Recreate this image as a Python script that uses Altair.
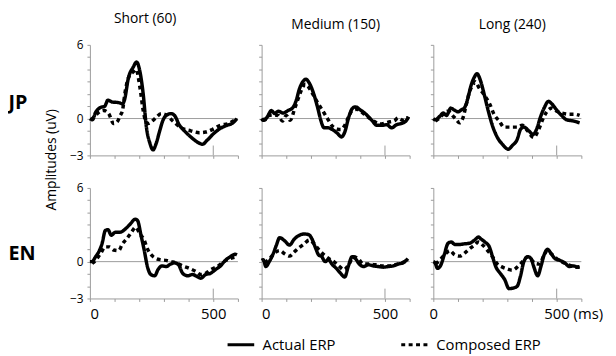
import altair as alt
import pandas as pd

FONT = "Open Sans"
AXIS_GRAY = "#9b9b9b"

row_names = ["JP", "EN"]
col_names = ["Short (60)", "Medium (150)", "Long (240)"]
col_title_dx = [-19, 0, 5]
series_names = ["Actual ERP", "Composed ERP"]
x_tick_values = [0, 100, 200, 300, 400, 500, 600]
y_tick_values = [-3, -2, -1, 0, 1, 2, 3, 4, 5, 6]

# ---- JP ----
jp_short_actual_t = [0, 10, 23, 43, 60, 73, 89, 116, 133, 140, 156, 176, 189, 203, 216, 229, 243, 256, 269, 283, 296, 309, 329, 343, 363, 383, 409, 443, 456, 476, 503, 529, 556, 576, 596]
jp_short_actual_v = [0, -0.1, 0.5, 0.9, 1.0, 1.5, 1.35, 1.3, 1.2, 1.5, 3.3, 4.2, 4.6, 3.8, 2.0, -0.7, -2.0, -2.55, -2.0, -1.0, -0.15, 0.25, 0.4, 0.25, -0.55, -1.0, -1.5, -2.0, -2.1, -1.75, -1.2, -0.8, -0.55, -0.4, 0.0]
jp_short_composed_t = [5, 20, 36, 56, 76, 96, 109, 123, 132, 143, 156, 176, 187, 203, 216, 225, 236, 256, 269, 289, 309, 336, 369, 409, 443, 469, 496, 529, 563, 596]
jp_short_composed_v = [-0.1, 0.2, 0.5, 0.65, 0.4, -0.4, -0.3, 0.25, 0.65, 2.2, 3.3, 3.8, 4.0, 2.5, 0.65, -0.15, -0.4, -0.15, 0.1, 0.4, 0.3, -0.2, -0.75, -1.0, -1.15, -1.1, -0.9, -0.55, -0.4, 0.0]

jp_medium_actual_t = [0, 7, 20, 40, 53, 67, 87, 107, 127, 140, 153, 167, 180, 193, 207, 227, 240, 253, 267, 287, 307, 324, 337, 353, 367, 380, 400, 420, 447, 467, 487, 507, 527, 547, 567, 587, 596]
jp_medium_actual_v = [0, -0.15, 0.05, 0.65, 0.4, 0.6, 0.45, 0.65, 0.9, 1.45, 2.4, 3.0, 3.2, 2.9, 2.25, 0.9, -0.15, -0.75, -0.75, -0.9, -1.2, -1.5, -1.1, 0.1, 0.8, 0.95, 0.7, 0.4, -0.15, -0.55, -0.55, -0.5, -0.75, -0.5, -0.4, -0.15, 0.15]
jp_medium_composed_t = [5, 13, 27, 47, 67, 84, 100, 116, 133, 147, 160, 177, 187, 207, 227, 247, 267, 284, 300, 320, 337, 353, 367, 387, 413, 447, 480, 513, 540, 553, 573, 593]
jp_medium_composed_v = [0, -0.1, 0.25, 0.3, 0.25, -0.2, 0.25, -0.15, 0.75, 1.55, 2.25, 2.8, 2.65, 2.0, 1.3, 0.65, 0.0, -0.55, -0.8, -0.9, -0.55, 0.15, 0.65, 0.75, 0.4, -0.1, -0.45, -0.3, -0.15, 0.05, -0.15, 0.1]

jp_long_actual_t = [0, 7, 27, 40, 53, 71, 84, 100, 113, 127, 140, 153, 167, 177, 191, 207, 223, 240, 260, 280, 304, 320, 340, 353, 367, 387, 404, 420, 433, 449, 467, 480, 500, 520, 540, 567, 593]
jp_long_actual_v = [0, -0.1, 0.2, 0.45, 0.25, 0.85, 0.7, 0.55, 0.7, 0.9, 1.65, 2.7, 3.4, 3.65, 3.1, 1.9, 0.6, -0.6, -1.55, -2.1, -2.5, -2.2, -1.7, -0.9, -0.7, -1.0, -1.3, -0.8, 0.05, 0.85, 1.4, 1.2, 0.7, 0.25, -0.1, -0.2, -0.35]
jp_long_composed_t = [9, 23, 40, 60, 80, 89, 107, 120, 133, 147, 160, 169, 187, 207, 227, 247, 267, 287, 313, 340, 360, 380, 407, 427, 447, 460, 480, 500, 520, 547, 573, 593]
jp_long_composed_v = [-0.2, 0.0, 0.35, 0.6, 0.2, 0.0, -0.35, 0.05, 1.1, 2.2, 2.7, 3.0, 2.45, 1.9, 1.25, 0.3, -0.2, -0.7, -0.7, -0.7, -0.55, -0.95, -1.55, -0.9, 0.1, 0.55, 0.85, 0.6, 0.45, 0.35, 0.35, 0.25]

# ---- EN ----
en_short_actual_t = [0, 9, 23, 36, 49, 63, 73, 87, 103, 123, 143, 163, 183, 193, 207, 220, 233, 247, 263, 276, 292, 309, 327, 343, 359, 376, 396, 416, 433, 449, 469, 489, 509, 529, 549, 569, 589, 596]
en_short_actual_v = [0, 0.0, 0.4, 0.8, 1.45, 2.55, 2.6, 2.15, 2.4, 2.4, 2.65, 3.05, 3.45, 3.35, 2.15, 0.95, -0.4, -1.05, -1.15, -0.65, -0.35, -0.4, -0.2, -0.1, -0.25, -0.95, -1.15, -1.05, -1.2, -1.35, -1.05, -0.95, -0.65, -0.35, 0.1, 0.4, 0.6, 0.55]
en_short_composed_t = [9, 25, 43, 63, 79, 96, 116, 132, 149, 169, 185, 203, 220, 233, 249, 269, 289, 309, 329, 349, 376, 403, 429, 449, 469, 489, 516, 543, 569, 596]
en_short_composed_v = [-0.15, 0.15, 0.65, 1.2, 1.2, 0.95, 0.9, 1.45, 1.85, 2.4, 2.8, 2.25, 1.75, 1.05, 0.55, 0.25, 0.15, 0.1, 0.0, -0.1, -0.35, -0.55, -0.8, -1.05, -0.95, -0.65, -0.4, 0.0, 0.25, 0.4]

en_medium_actual_t = [0, 7, 17, 31, 47, 60, 73, 93, 113, 133, 153, 173, 191, 204, 217, 231, 244, 257, 271, 287, 303, 320, 337, 351, 367, 380, 396, 413, 433, 453, 473, 493, 513, 533, 553, 573, 593]
en_medium_actual_v = [0.1, 0.15, -0.4, 0.0, 0.65, 1.35, 1.95, 1.7, 1.35, 1.85, 2.15, 2.25, 2.2, 1.85, 1.2, 0.55, 0.4, 0.0, 0.15, -0.25, -0.55, -0.95, -1.25, -0.4, 0.4, 0.25, -0.2, -0.4, -0.25, -0.35, -0.4, -0.45, -0.4, -0.35, -0.2, -0.1, 0.25]
en_medium_composed_t = [13, 33, 53, 73, 93, 113, 133, 153, 173, 193, 213, 233, 253, 273, 293, 313, 333, 353, 373, 393, 413, 433, 460, 487, 513, 540, 567, 593]
en_medium_composed_v = [-0.1, 0.25, 0.7, 0.9, 0.65, 0.45, 0.8, 1.15, 1.45, 1.75, 1.45, 0.95, 0.55, 0.25, 0.0, -0.35, -0.65, -0.25, 0.4, 0.2, -0.2, -0.2, -0.25, -0.35, -0.35, -0.25, -0.1, 0.1]

en_long_actual_t = [0, 7, 17, 31, 44, 60, 73, 87, 107, 127, 147, 167, 183, 193, 209, 227, 240, 253, 271, 289, 307, 324, 340, 353, 367, 383, 396, 407, 423, 436, 449, 463, 476, 493, 513, 533, 551, 567, 587, 593]
en_long_actual_v = [0, -0.1, -0.55, -0.25, 0.55, 1.5, 1.6, 1.4, 1.4, 1.45, 1.5, 1.75, 2.0, 1.85, 1.6, 1.2, 0.4, -0.4, -0.95, -1.45, -2.2, -2.15, -2.0, -1.2, 0.0, 0.4, 0.25, -0.4, -1.15, -0.4, 0.55, 1.0, 0.7, 0.25, 0.1, -0.1, -0.4, -0.35, -0.45, -0.45]
en_long_composed_t = [9, 27, 47, 67, 87, 107, 127, 147, 167, 183, 200, 220, 240, 260, 280, 300, 320, 340, 353, 367, 383, 400, 413, 431, 447, 463, 480, 500, 520, 540, 560, 580, 593]
en_long_composed_v = [-0.2, 0.15, 0.6, 0.9, 0.55, 0.45, 0.7, 1.05, 1.35, 1.6, 1.35, 0.9, 0.4, -0.2, -0.45, -0.6, -0.7, -0.45, -0.2, 0.15, 0.4, 0.1, -0.15, -0.2, 0.45, 0.9, 0.6, 0.25, 0.0, -0.2, -0.35, -0.45, -0.4]

panel_series = [
    [
        (jp_short_actual_t, jp_short_actual_v, jp_short_composed_t, jp_short_composed_v),
        (jp_medium_actual_t, jp_medium_actual_v, jp_medium_composed_t, jp_medium_composed_v),
        (jp_long_actual_t, jp_long_actual_v, jp_long_composed_t, jp_long_composed_v),
    ],
    [
        (en_short_actual_t, en_short_actual_v, en_short_composed_t, en_short_composed_v),
        (en_medium_actual_t, en_medium_actual_v, en_medium_composed_t, en_medium_composed_v),
        (en_long_actual_t, en_long_actual_v, en_long_composed_t, en_long_composed_v),
    ],
]

PANEL_W = 150
PANEL_H = 112

legend = alt.Legend(
    orient="none", legendX=138, legendY=289, direction="horizontal", title=None,
    symbolType="stroke", symbolStrokeWidth=3, symbolSize=729, symbolStrokeColor="black",
    labelFont=FONT, labelFontSize=15, labelColor="black", labelOffset=7, columnPadding=60,
)
dash_enc = alt.StrokeDash(
    "series:N",
    scale=alt.Scale(domain=series_names, range=[[1, 0], [4, 3.5]]),
    legend=legend,
)


def make_panel(r, c):
    at, av, ct, cv = panel_series[r][c]
    df = pd.DataFrame({
        "t": at + ct,
        "v": av + cv,
        "series": [series_names[0]] * len(at) + [series_names[1]] * len(ct),
    })
    bottom = r == 1
    first_col = c == 0

    xk = dict(values=x_tick_values, grid=False, domainColor=AXIS_GRAY, tickColor=AXIS_GRAY,
              tickSize=3, labels=bottom, labelFont=FONT, labelFontSize=15, labelColor="black",
              labelPadding=5, title=None)
    if bottom:
        if c == 2:
            xk["labelExpr"] = "datum.value == 0 ? '0' : (datum.value == 500 ? '500 (ms)' : '')"
            xk["labelAlign"] = {"condition": {"test": "datum.value == 500", "value": "left"}, "value": "center"}
            xk["labelOffset"] = {"condition": {"test": "datum.value == 500", "value": -13}, "value": 0}
        else:
            xk["labelExpr"] = "datum.value == 0 || datum.value == 500 ? datum.label : ''"
    if r == 0 and c == 0:
        xk.update(title=row_names[0], titleX=-83, titleY=-53, titleAngle=0, titleAlign="left",
                  titleBaseline="middle", titleFont=FONT, titleFontSize=20, titleFontWeight="bold",
                  titleColor="black")

    yk = dict(values=y_tick_values, grid=False, domainColor=AXIS_GRAY, tickColor=AXIS_GRAY,
              tickSize=3, labels=first_col, labelFont=FONT, labelFontSize=12, labelColor="black",
              labelPadding=4, title=None,
              labelExpr="datum.value == -3 || datum.value == 0 || datum.value == 6 ? datum.label : ''")
    if r == 0 and c == 0:
        yk.update(title="Amplitudes (uV)", titleX=-39, titleY=116, titleAngle=270, titleAlign="center",
                  titleBaseline="middle", titleFont=FONT, titleFontSize=14, titleFontWeight="normal",
                  titleColor="black")
    if r == 1 and c == 0:
        yk.update(title=row_names[1], titleX=-83, titleY=67, titleAngle=0, titleAlign="left",
                  titleBaseline="middle", titleFont=FONT, titleFontSize=20, titleFontWeight="bold",
                  titleColor="black")

    x_enc = alt.X("t:Q", scale=alt.Scale(domain=[0, 600], nice=False, zero=False), axis=alt.Axis(**xk))
    y_enc = alt.Y("v:Q", scale=alt.Scale(domain=[-3, 6], nice=False, zero=False), axis=alt.Axis(**yk))

    zero = alt.Chart(pd.DataFrame({"v": [0]})).mark_rule(color=AXIS_GRAY, strokeWidth=1).encode(y=y_enc)
    tick = alt.Chart(pd.DataFrame({"t": [500], "v": [-3], "v2": [-2.2]})).mark_rule(
        color=AXIS_GRAY, strokeWidth=1).encode(x=x_enc, y=y_enc, y2="v2:Q")
    lines = alt.Chart(df).mark_line(color="black", strokeWidth=3.5, interpolate="monotone").encode(
        x=x_enc, y=y_enc, strokeDash=dash_enc, detail="series:N")

    props = dict(width=PANEL_W, height=PANEL_H)
    if r == 0:
        props["title"] = alt.TitleParams(col_names[c], font=FONT, fontSize=14, fontWeight="normal",
                                         color="black", anchor="middle", frame="group", offset=2,
                                         baseline="alphabetic", dx=col_title_dx[c])
    return alt.layer(zero, tick, lines).properties(**props)


panels = [make_panel(r, c) for r in range(2) for c in range(3)]

chart = alt.concat(*panels, columns=3, spacing={"row": 33, "column": 24}, bounds="flush").resolve_scale(
    strokeDash="shared"
).properties(
    padding={"left": 0, "top": 2, "right": 5, "bottom": 5},
    background="white",
).configure_view(stroke=None)

chart.save("out.html", embed_options={"renderer": "svg", "actions": False})
